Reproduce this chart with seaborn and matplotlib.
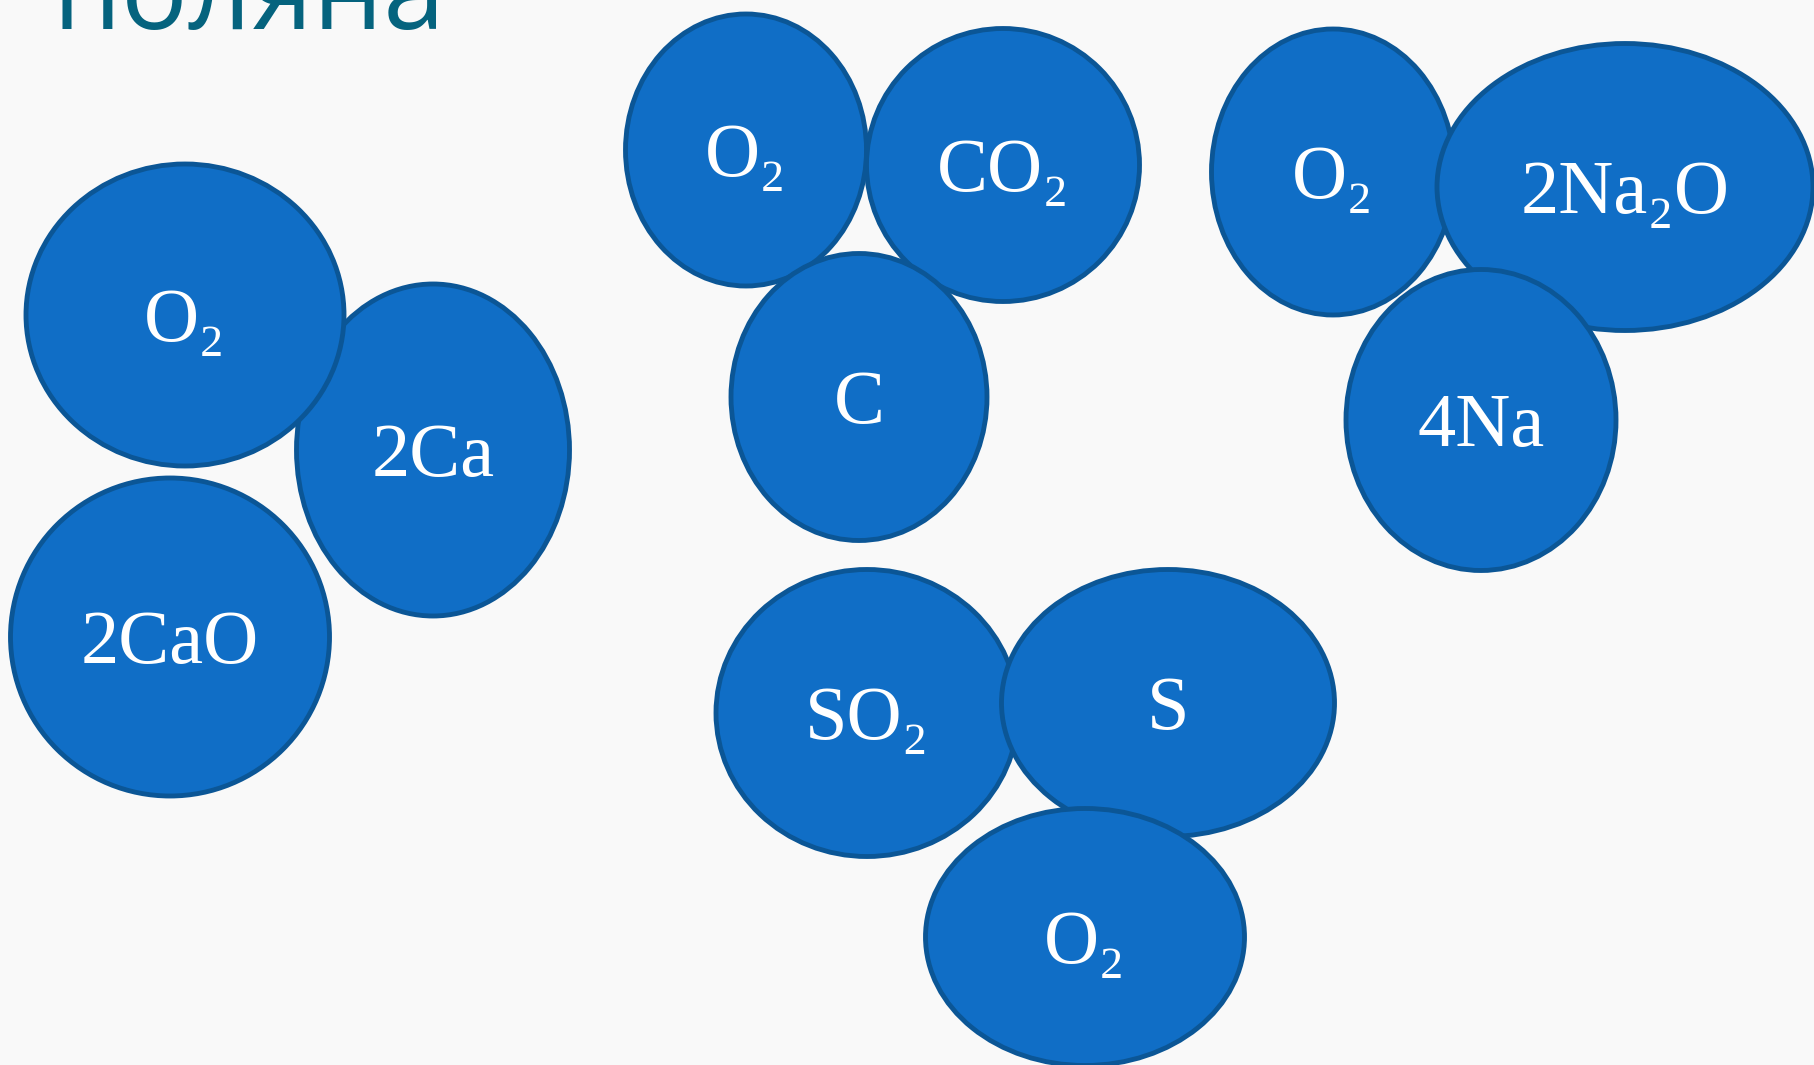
import matplotlib

matplotlib.use("agg")

import matplotlib.pyplot as plt
import seaborn as sns
from matplotlib.patches import Ellipse

# Slide data (pixel coordinates of the 1814x1065 slide), in drawing order
labels = ["2Ca", "O₂", "2CaO",
          "O₂", "CO₂", "C",
          "O₂", "2Na₂O", "4Na",
          "SO₂", "S", "O₂"]
center_x = [433, 185, 170, 746, 1003, 859, 1333, 1625, 1481, 867, 1168, 1085]
center_y = [450, 315, 637, 150, 165, 397, 172, 187, 420, 713, 703, 937]
widths = [273, 318, 319, 241, 273, 256, 243, 376, 270, 302, 333, 319]
heights = [332, 302, 318, 272, 273, 287, 286, 287, 301, 287, 267, 257]

title = "поляна"

sns.set_theme(style="white")
plt.rcParams["font.family"] = ["Liberation Serif", "DejaVu Serif"]

fig = plt.figure(figsize=(18.14, 10.65), dpi=100)
fig.patch.set_facecolor("#f9f9f9")
ax = fig.add_axes([0, 0, 1, 1])
ax.set_facecolor("#f9f9f9")
ax.set_xlim(0, 1814)
ax.set_ylim(1065, 0)
ax.axis("off")

for i, lab in enumerate(labels):
    e = Ellipse((center_x[i], center_y[i]), widths[i], heights[i],
                facecolor="#106ec6", edgecolor="#0b5696", linewidth=3.5,
                zorder=2 * i + 1)
    ax.add_patch(e)
    # baseline a bit below the centre so the capitals sit centred
    ax.text(center_x[i], center_y[i] + 26, lab, color="white", fontsize=55,
            ha="center", va="baseline", zorder=2 * i + 2)

ax.text(52, 29, title, color="#05637e", fontsize=80,
        family=["Open Sans", "DejaVu Sans"], ha="left", va="baseline")

plt.savefig("out.png", dpi=100, facecolor=fig.get_facecolor())
